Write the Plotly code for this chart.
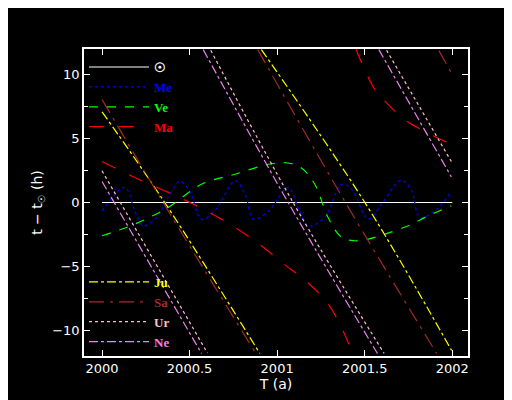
import plotly.graph_objects as go

# transit time differences (hours) vs year; None splits the 24 h wrap-around
sun_x = [2000.0, 2002.0]
sun_y = [0, 0]

me_x = [2000.0, 2000.13, 2000.187, 2000.234, 2000.311, 2000.377, 2000.444, 2000.501, 2000.568, 2000.644,
        2000.76, 2000.817, 2000.865, 2000.952, 2001.063, 2001.12, 2001.177, 2001.272, 2001.368, 2001.425,
        2001.52, 2001.596, 2001.71, 2001.768, 2001.815, 2001.901, 2001.995]
me_y = [-0.65, 1.17, -0.65, -1.82, -1.17, 0.39, 1.64, 0.91, -1.3, -0.65,
        1.69, 0.65, -1.3, -0.65, 1.17, -0.39, -1.82, -1.17, 1.43, 1.04,
        -1.3, -0.13, 1.74, 0.91, -1.17, -0.65, 0.86]

ve_x = [2000.0, 2000.187, 2000.377, 2000.568, 2000.76, 2000.952, 2001.063, 2001.139, 2001.215, 2001.291,
        2001.368, 2001.444, 2001.52, 2001.615, 2001.749, 2001.863, 2001.995]
ve_y = [-2.6, -1.69, -0.39, 1.43, 2.21, 2.99, 3.09, 2.7, 1.43, -1.17,
        -2.73, -2.99, -2.86, -2.47, -1.82, -1.04, -0.26]

ma_x = [2000.0, 2000.187, 2000.463, 2000.682, 2000.872, 2001.063, 2001.139, 2001.291, 2001.415, 2001.44, None,
        2001.45, 2001.558, 2001.634, 2001.729, 2001.843, 2001.957, 2001.995]
ma_y = [3.2, 1.95, 0.26, -1.3, -2.99, -5.07, -5.85, -7.92, -11.2, -12, None,
        12, 8.83, 7.66, 6.47, 5.56, 4.78, 4.6]

ju_x = [2000.0, 2000.358, 2000.901, None, 2000.91, 2001.501, 2001.996]
ju_y = [7.09, 0, -11.8, None, 11.95, 0, -11.56]

sa_x = [2000.0, 2000.349, 2000.883, None, 2000.889, 2001.39, 2001.911, None, 2001.924, 2001.995]
sa_y = [8.05, 0, -11.9, None, 11.95, 0, -11.8, None, 11.87, 10.13]

ur_x = [2000.0, 2000.602, None, 2000.621, 2001.091, 2001.611, None, 2001.625, 2001.995]
ur_y = [2.47, -11.77, None, 11.9, 0, -11.8, None, 11.9, 3.2]

ne_x = [2000.0, 2000.568, None, 2000.578, 2001.063, 2001.573, None, 2001.581, 2001.995]
ne_y = [1.64, -11.8, None, 11.95, 0, -11.8, None, 11.95, 2.0]

series = [
    ("☉", sun_x, sun_y, "white", "solid", "legend", "linear"),
    ("Me", me_x, me_y, "blue", "dot", "legend", "spline"),
    ("Ve", ve_x, ve_y, "#00ff00", "dash", "legend", "spline"),
    ("Ma", ma_x, ma_y, "red", "longdash", "legend", "spline"),
    ("Ju", ju_x, ju_y, "yellow", "dashdot", "legend2", "spline"),
    ("Sa", sa_x, sa_y, "#a52a2a", "longdashdot", "legend2", "spline"),
    ("Ur", ur_x, ur_y, "#ffc0cb", "dot", "legend2", "spline"),
    ("Ne", ne_x, ne_y, "violet", "dashdot", "legend2", "spline"),
]

fig = go.Figure()
for name, xs, ys, col, dash, leg, shape in series:
    fig.add_trace(go.Scatter(
        x=xs, y=ys, mode="lines", connectgaps=False,
        name=f"<span style='color:{col}'><b>{name}</b></span>",
        line=dict(color=col, dash=dash, width=1.2, shape=shape), legend=leg))

axis_common = dict(showgrid=False, zeroline=False, showline=True, linecolor="white", linewidth=1.5,
                   mirror="ticks", ticks="inside", ticklen=6, tickcolor="white", automargin=False,
                   tickfont=dict(color="white", size=13, family="DejaVu Sans"),
                   title_font=dict(color="white", size=14, family="DejaVu Sans"))

fig.update_xaxes(range=[1999.897, 2002.09], tickvals=[2000, 2000.5, 2001, 2001.5, 2002],
                 ticktext=["2000", "2000.5", "2001", "2001.5", "2002"],
                 title_text="T (a)", title_standoff=4, **axis_common)
fig.update_yaxes(range=[-12, 12], tickvals=[-10, -5, 0, 5, 10],
                 minor=dict(tickvals=[-7.5, -2.5, 2.5, 7.5], ticks="inside", ticklen=4, tickcolor="white"),
                 title_text="t − t<sub>☉</sub> (h)", title_standoff=6, **axis_common)

legend_common = dict(bgcolor="rgba(0,0,0,0)", font=dict(family="Liberation Serif", size=13),
                     itemwidth=60, tracegroupgap=0, xanchor="left", yanchor="top")
fig.update_layout(
    width=512, height=400,
    paper_bgcolor="black", plot_bgcolor="black",
    margin=dict(l=76, r=52, t=41, b=52),
    legend=dict(x=0.0, y=0.99, **legend_common),
    legend2=dict(x=0.0, y=0.29, **legend_common),
)

fig.write_html("out.html")
